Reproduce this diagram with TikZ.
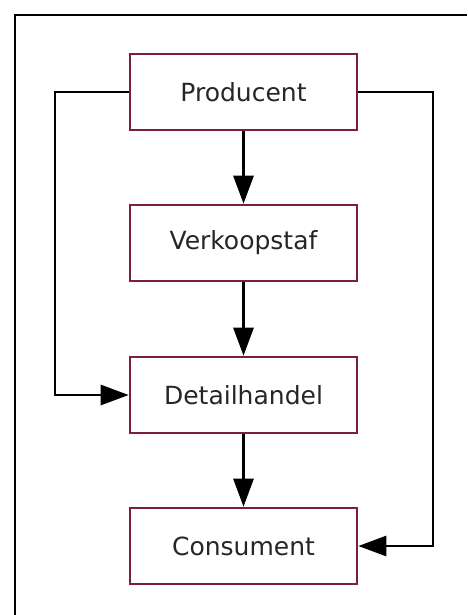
\documentclass[tikz,border=0pt]{standalone}
\usepackage{fontspec}
\setmainfont{DejaVu Sans}
\usetikzlibrary{arrows.meta}
\definecolor{boxred}{HTML}{7A1F3D}
\begin{document}
\begin{tikzpicture}[x=1pt,y=-1pt,
  stepbox/.style={draw=boxred,line width=2.6pt,fill=white,minimum width=227pt,minimum height=76pt,inner sep=0pt,font=\fontsize{25}{29}\selectfont,text=black!85},
  conn/.style={draw=black,line width=2.8pt,-{Triangle[length=28pt,width=20pt]}}]
\useasboundingbox (0,0) rectangle (467,615);
\draw[line width=2.8pt] (15,615) -- (15,15) -- (467,15);
\node[stepbox] (p) at (243.5,92) {Producent};
\node[stepbox] (v) at (243.5,243) {Verkoopstaf};
\node[stepbox] (d) at (243.5,395) {Detailhandel};
\node[stepbox] (c) at (243.5,546) {Consument};
\draw[conn] (p) -- (v);
\draw[conn] (v) -- (d);
\draw[conn] (d) -- (c);
\draw[conn] (p.west) -| (55,395) -- (d.west);
\draw[conn] (p.east) -| (433,546) -- (c.east);
\end{tikzpicture}
\end{document}
